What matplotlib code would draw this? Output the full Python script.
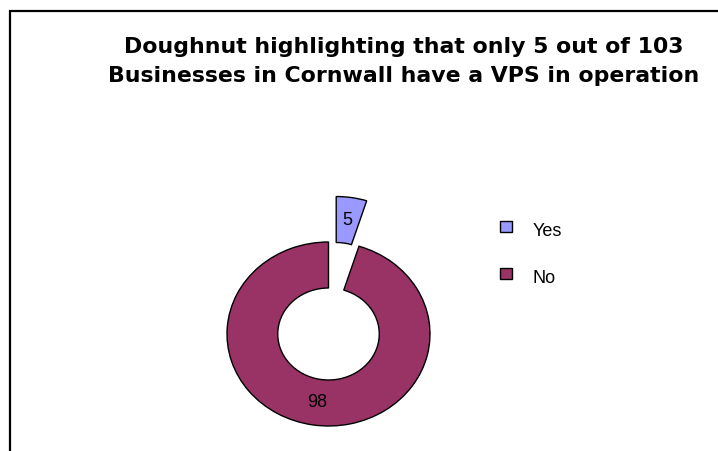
import matplotlib.pyplot as plt
from matplotlib.patches import Rectangle

# VPS survey answers
labels = ['Yes', 'No']
counts = [5, 98]
colors = ['#9999FF', '#993366']
explode = [0.5, 0]

W, H = 718, 451
fig = plt.figure(figsize=(W / 100, H / 100), dpi=100)

# chart border (runs off the right and bottom edges)
fig.add_artist(Rectangle((10 / W, -0.1), 1.2, (H - 11) / H + 0.1,
                         transform=fig.transFigure, fill=False,
                         edgecolor='black', linewidth=1.6))

title_lines = ['Doughnut highlighting that only 5 out of 103',
               'Businesses in Cornwall have a VPS in operation']
for line, base in zip(title_lines, [53, 82]):
    fig.text(404 / W, 1 - base / H, line, ha='center', va='baseline',
             fontsize=15.8, fontweight='bold', family='DejaVu Sans')

# doughnut axes, slightly squashed vertically
cx, cy, sx, sy = 328.5, 334, 101.5, 92
x0, x1, y0, y1 = -1.1, 1.1, -1.1, 1.7
ax = fig.add_axes([(cx + x0 * sx) / W, (H - cy + y0 * sy) / H,
                   (x1 - x0) * sx / W, (y1 - y0) * sy / H])
total = sum(counts)
wedges, texts, autotexts = ax.pie(
    counts, colors=colors, explode=explode, startangle=90, counterclock=False,
    wedgeprops=dict(width=0.5, edgecolor='black', linewidth=1.0),
    autopct=lambda p: f'{round(p * total / 100)}', pctdistance=0.75,
    textprops=dict(fontsize=13, family='Liberation Sans', color='black'))
ax.set_aspect('auto')
ax.set_xlim(x0, x1)
ax.set_ylim(y0, y1)
ax.axis('off')

# legend: small squares with the text sitting a little lower
for i, (lab, col) in enumerate(zip(labels, colors)):
    top = 221 + i * 47
    fig.add_artist(Rectangle((500 / W, 1 - (top + 11) / H), 12 / W, 11 / H,
                             transform=fig.transFigure, facecolor=col,
                             edgecolor='black', linewidth=1.0))
    fig.text(533 / W, 1 - (top + 10.5) / H, lab, ha='left', va='center',
             fontsize=13, family='Liberation Sans')

fig.savefig('out.png', dpi=100, facecolor='white')
